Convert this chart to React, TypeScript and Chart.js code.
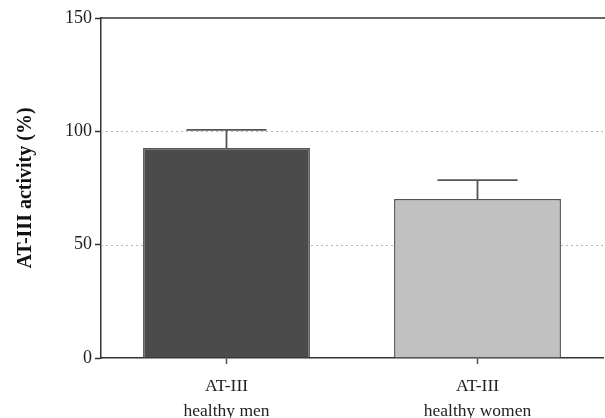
import React, { useEffect, useRef } from "react";
import { Chart, registerables } from "chart.js";

Chart.register(...registerables);

const categories: string[][] = [
  ["AT-III", "healthy men"],
  ["AT-III", "healthy women"],
];
const means: number[] = [92.6, 70.2];
const errors: number[] = [8.0, 8.3];
const barColors: string[] = ["#4b4b4b", "#c1c1c1"];
const yTicks: number[] = [0, 50, 100, 150];
const yTitle = "AT-III activity (%)";

const FONT = "'Liberation Serif', 'Times New Roman', serif";

const framePlugin = {
  id: "frameAndGrid",
  beforeDatasetsDraw(chart: any) {
    const { ctx, chartArea, scales } = chart;
    const y = scales.y;
    ctx.save();
    ctx.strokeStyle = "#b8b8b8";
    ctx.lineWidth = 1.2;
    ctx.setLineDash([2, 3]);
    yTicks.forEach((v) => {
      if (v === yTicks[0] || v === yTicks[yTicks.length - 1]) return;
      const py = Math.round(y.getPixelForValue(v)) + 0.5;
      ctx.beginPath();
      ctx.moveTo(chartArea.left, py);
      ctx.lineTo(chartArea.right + 2, py);
      ctx.stroke();
    });
    ctx.setLineDash([]);
    ctx.strokeStyle = "#333";
    ctx.lineWidth = 1.5;
    const top = y.getPixelForValue(yTicks[yTicks.length - 1]);
    ctx.beginPath();
    ctx.moveTo(chartArea.left, top);
    ctx.lineTo(chart.width, top);
    ctx.stroke();
    ctx.restore();
  },
};

const errorBarPlugin = {
  id: "errorBars",
  afterDatasetsDraw(chart: any) {
    const { ctx, scales } = chart;
    const y = scales.y;
    const meta = chart.getDatasetMeta(0);
    ctx.save();
    ctx.strokeStyle = "#555";
    ctx.lineWidth = 1.8;
    meta.data.forEach((bar: any, i: number) => {
      const x = bar.x;
      const yMean = y.getPixelForValue(means[i]);
      const yTop = y.getPixelForValue(means[i] + errors[i]);
      const half = bar.width * 0.24;
      ctx.beginPath();
      ctx.moveTo(x, yMean);
      ctx.lineTo(x, yTop);
      ctx.moveTo(x - half, yTop);
      ctx.lineTo(x + half, yTop);
      ctx.stroke();
    });
    ctx.restore();
  },
};

export default function App() {
  const ref = useRef<HTMLCanvasElement>(null);

  useEffect(() => {
    document.body.style.margin = "0";
    const chart = new Chart(ref.current as HTMLCanvasElement, {
      type: "bar",
      data: {
        labels: categories,
        datasets: [
          {
            data: means,
            backgroundColor: barColors,
            borderColor: "#555",
            borderWidth: 1.5,
            barPercentage: 0.665,
            categoryPercentage: 1,
          },
        ],
      },
      options: {
        animation: false,
        responsive: false,
        maintainAspectRatio: false,
        layout: { padding: { top: 18, right: 2, left: 0, bottom: 0 } },
        plugins: {
          legend: { display: false },
          tooltip: { enabled: false },
        },
        scales: {
          x: {
            afterFit: (s: any) => {
              s.height = 60;
            },
            grid: {
              offset: false,
              drawOnChartArea: false,
              drawTicks: true,
              tickLength: 6,
              tickColor: "#555",
              tickWidth: 1.5,
            },
            border: { display: true, color: "#333", width: 1.5 },
            ticks: {
              color: "#222",
              padding: 10,
              font: { family: FONT, size: 17.5, lineHeight: 1.43 },
            },
          },
          y: {
            min: 0,
            max: 150,
            afterFit: (s: any) => {
              s.width = 101;
            },
            afterBuildTicks: (s: any) => {
              s.ticks = yTicks.map((v) => ({ value: v }));
            },
            grid: {
              drawOnChartArea: false,
              drawTicks: true,
              tickLength: 6,
              tickColor: "#333",
              tickWidth: 1.5,
            },
            border: { display: true, color: "#333", width: 1.5 },
            ticks: {
              color: "#222",
              padding: 3,
              font: { family: FONT, size: 18 },
            },
            title: {
              display: true,
              text: yTitle,
              color: "#111",
              padding: { top: 14, bottom: 4 },
              font: { family: FONT, size: 20, weight: "bold" },
            },
          },
        },
      },
      plugins: [framePlugin, errorBarPlugin],
    });
    return () => chart.destroy();
  }, []);

  return (
    <div style={{ position: "absolute", left: 0, top: 0, width: 605, height: 418 }}>
      <canvas ref={ref} width={605} height={418} style={{ width: 605, height: 418 }} />
    </div>
  );
}
